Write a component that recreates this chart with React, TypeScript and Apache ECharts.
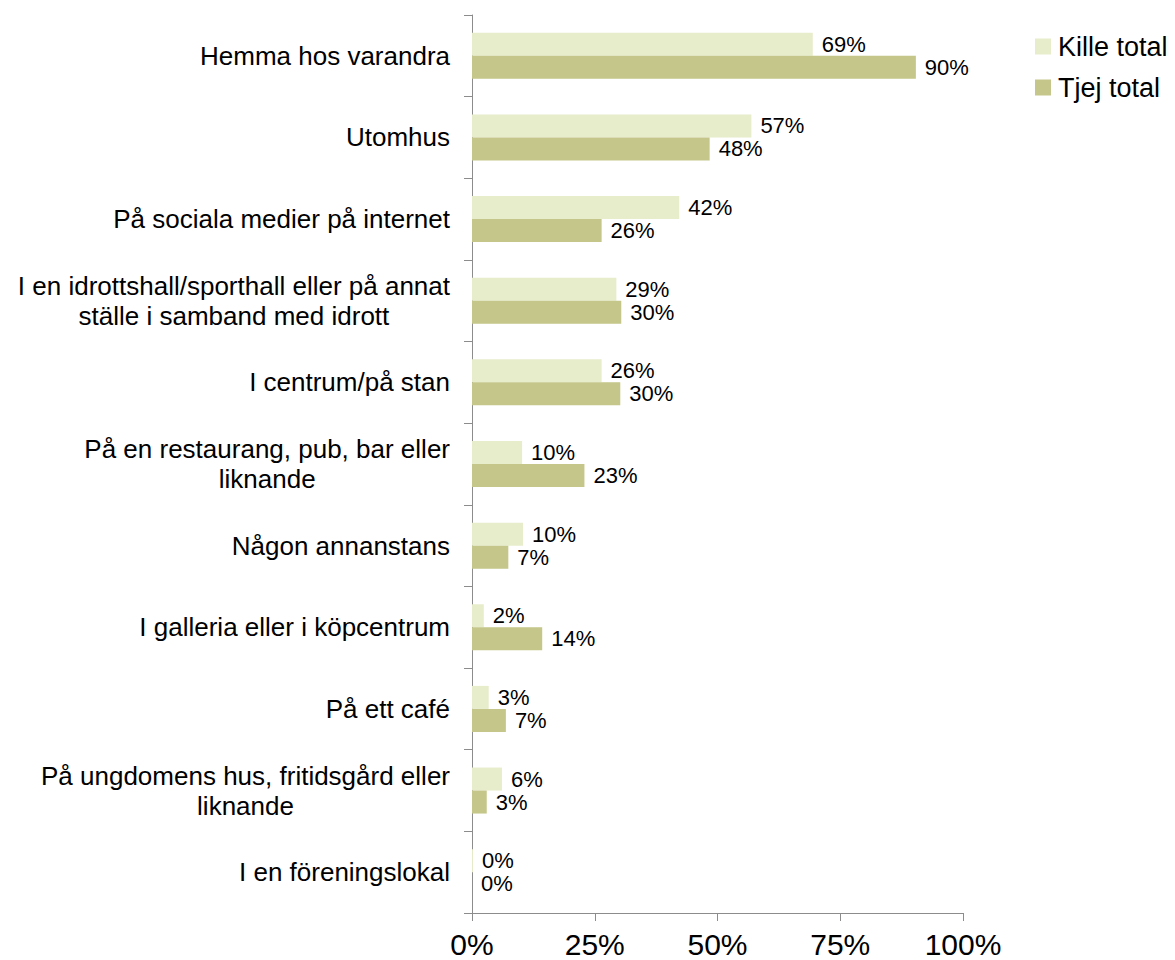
import React, { useEffect, useRef } from "react";
import * as echarts from "echarts";

const categories = [
  "Hemma hos varandra",
  "Utomhus",
  "På sociala medier på internet",
  "I en idrottshall/sporthall eller på annat\nställe i samband med idrott",
  "I centrum/på stan",
  "På en restaurang, pub, bar eller\nliknande",
  "Någon annanstans",
  "I galleria eller i köpcentrum",
  "På ett café",
  "På ungdomens hus, fritidsgård eller\nliknande",
  "I en föreningslokal",
];

const killeTotal = [69.4, 56.9, 42.2, 29.4, 26.4, 10.2, 10.4, 2.4, 3.4, 6.1, 0.2];
const tjejTotal = [90.4, 48.4, 26.4, 30.4, 30.2, 22.9, 7.4, 14.3, 6.9, 3.0, 0];

const xTicks = [0, 25, 50, 75, 100];

const FONT = "'Liberation Sans', Arial, Helvetica, sans-serif";

export default function App() {
  const ref = useRef<HTMLDivElement>(null);

  useEffect(() => {
    document.body.style.margin = "0";
    if (!ref.current) return;
    const chart = echarts.init(ref.current, undefined, { renderer: "svg" });

    const labelStyle = {
      show: true,
      position: "right" as const,
      distance: 9,
      fontSize: 22,
      lineHeight: 22,
      color: "#000",
      fontFamily: FONT,
      formatter: (p: any) => Math.round(p.value) + "%",
    };

    chart.setOption({
      animation: false,
      backgroundColor: "#ffffff",
      textStyle: { fontFamily: FONT },
      legend: {
        orient: "vertical",
        left: 1030,
        top: 28,
        itemWidth: 16,
        itemHeight: 16,
        itemGap: 14,
        icon: "rect",
        textStyle: { fontSize: 27, color: "#000", fontFamily: FONT, padding: [0, 0, 0, 2] },
        data: ["Kille total", "Tjej total"],
      },
      grid: { left: 472, right: 212, top: 15, bottom: 47 },
      xAxis: {
        type: "value",
        min: 0,
        max: 100,
        interval: 25,
        axisLine: { show: true, lineStyle: { color: "#8c8c8c", width: 1 } },
        axisTick: { show: true, length: 8, lineStyle: { color: "#8c8c8c" } },
        splitLine: { show: false },
        axisLabel: {
          fontSize: 30,
          color: "#000",
          fontFamily: FONT,
          margin: 16,
          formatter: (v: number) => (xTicks.includes(v) ? v + "%" : ""),
        },
      },
      yAxis: {
        type: "category",
        inverse: true,
        data: categories,
        axisLine: { show: true, lineStyle: { color: "#8c8c8c", width: 1 } },
        axisTick: { show: true, length: 8, lineStyle: { color: "#8c8c8c" } },
        axisLabel: {
          fontSize: 26,
          color: "#000",
          fontFamily: FONT,
          margin: 22,
          lineHeight: 30,
          formatter: (v: string) =>
            v
              .split("\n")
              .map((l) => "{c|" + l + "}")
              .join("\n"),
          rich: {
            c: { align: "center", fontSize: 26, lineHeight: 30, color: "#000", fontFamily: FONT },
          },
        },
      },
      series: [
        {
          name: "Kille total",
          type: "bar",
          data: killeTotal,
          barWidth: 23,
          barGap: "0%",
          itemStyle: { color: "#e7ecca" },
          label: labelStyle,
        },
        {
          name: "Tjej total",
          type: "bar",
          data: tjejTotal,
          barWidth: 23,
          barGap: "0%",
          itemStyle: { color: "#c5c689" },
          label: labelStyle,
        },
      ],
    });

    return () => chart.dispose();
  }, []);

  return <div ref={ref} style={{ width: 1175, height: 960 }} />;
}
